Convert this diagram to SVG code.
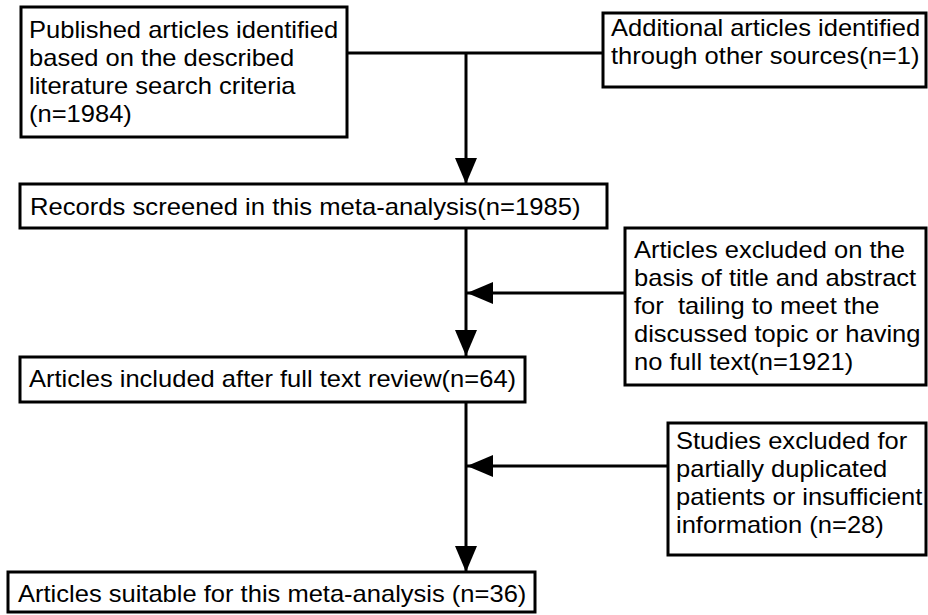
<svg xmlns="http://www.w3.org/2000/svg" width="928" height="615" viewBox="0 0 928 615">
<defs>
<marker id="ah" markerUnits="userSpaceOnUse" markerWidth="26" markerHeight="22" refX="26" refY="11" orient="auto">
<path d="M0,0 L26,11 L0,22 Z" fill="#000"/>
</marker>
<style>
.box{fill:#fff;stroke:#000;stroke-width:3}
.t{font-family:"Liberation Sans",Arial,sans-serif;font-size:23px;fill:#000;white-space:pre}
.c{fill:none;stroke:#000;stroke-width:3}
</style>
</defs>
<rect width="928" height="615" fill="#fff"/>
<g id="connectors">
<path class="c" d="M347,53 H603"/>
<path class="c" d="M466,53 V184" marker-end="url(#ah)"/>
<path class="c" d="M466,228 V356" marker-end="url(#ah)"/>
<path class="c" d="M625,293 H467" marker-end="url(#ah)"/>
<path class="c" d="M466,402 V572" marker-end="url(#ah)"/>
<path class="c" d="M668,466 H467" marker-end="url(#ah)"/>
</g>
<g id="n1">
<rect class="box" x="21" y="7" width="326" height="130"/>
<g transform="translate(29,0) scale(1.11,1)">
<text class="t" x="0" y="38">Published articles identified</text>
<text class="t" x="0" y="66">based on the described</text>
<text class="t" x="0" y="94">literature search criteria</text>
<text class="t" x="0" y="122">(n=1984)</text>
</g>
</g>
<g id="n2">
<rect class="box" x="603" y="13" width="323" height="74"/>
<g transform="translate(611,0) scale(1.11,1)">
<text class="t" x="0" y="36">Additional articles identified</text>
<text class="t" x="0" y="64">through other sources(n=1)</text>
</g>
</g>
<g id="n3">
<rect class="box" x="20" y="184" width="587" height="44"/>
<g transform="translate(30,0) scale(1.115,1)">
<text class="t" x="0" y="215">Records screened in this meta-analysis(n=1985)</text>
</g>
</g>
<g id="n4">
<rect class="box" x="625" y="228" width="301" height="157"/>
<g transform="translate(634,0) scale(1.11,1)">
<text class="t" x="0" y="258">Articles excluded on the</text>
<text class="t" x="0" y="286">basis of title and abstract</text>
<text class="t" x="0" y="314">for  tailing to meet the</text>
<text class="t" x="0" y="342">discussed topic or having</text>
<text class="t" x="0" y="370">no full text(n=1921)</text>
</g>
</g>
<g id="n5">
<rect class="box" x="20" y="357" width="505" height="45"/>
<g transform="translate(29,0) scale(1.11,1)">
<text class="t" x="0" y="387">Articles included after full text review(n=64)</text>
</g>
</g>
<g id="n6">
<rect class="box" x="668" y="423" width="258" height="132"/>
<g transform="translate(676,0) scale(1.11,1)">
<text class="t" x="0" y="449">Studies excluded for</text>
<text class="t" x="0" y="477">partially duplicated</text>
<text class="t" x="0" y="505">patients or insufficient</text>
<text class="t" x="0" y="533">information (n=28)</text>
</g>
</g>
<g id="n7">
<rect class="box" x="8" y="572" width="527" height="40"/>
<g transform="translate(18,0) scale(1.11,1)">
<text class="t" x="0" y="602">Articles suitable for this meta-analysis (n=36)</text>
</g>
</g>
</svg>
